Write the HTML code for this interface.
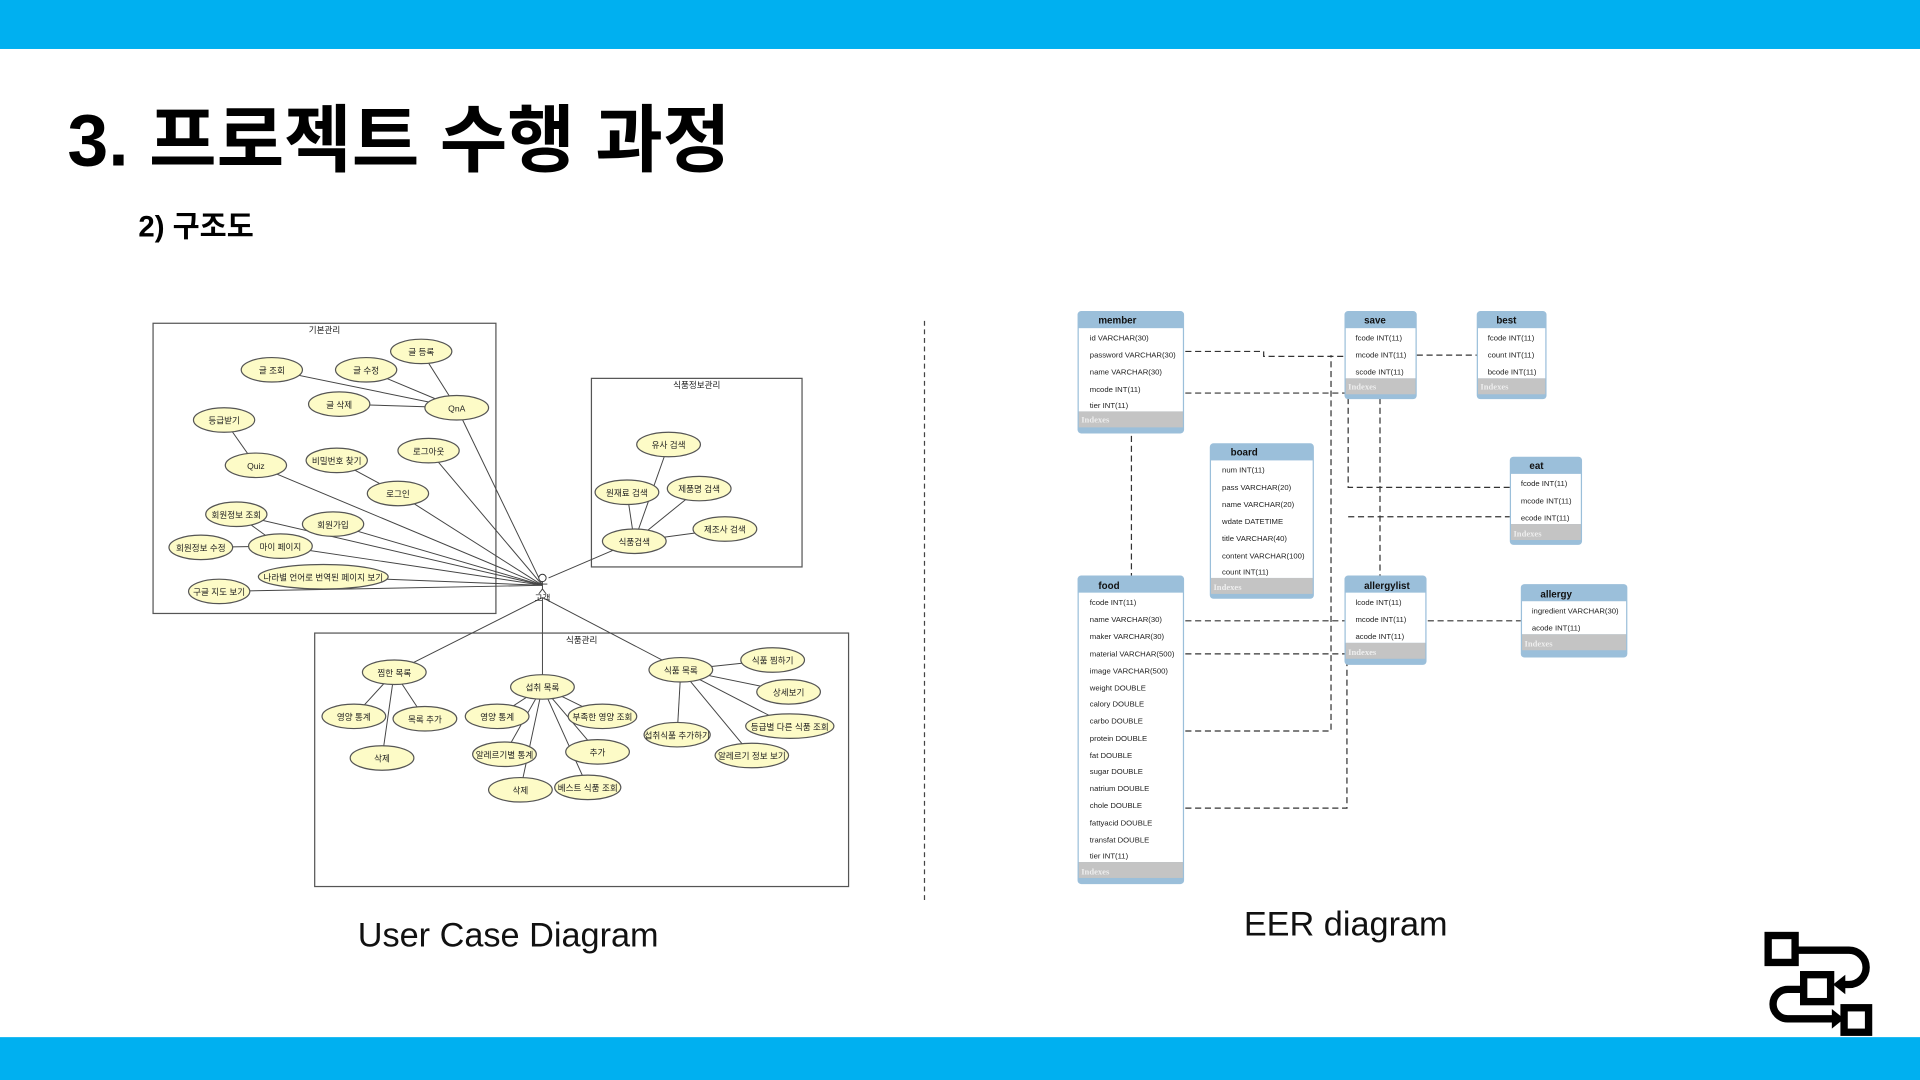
<!DOCTYPE html>
<html><head><meta charset="utf-8"><style>
html,body{margin:0;padding:0;background:#fff;width:1920px;height:1080px;overflow:hidden}
svg{display:block}
text{font-family:"Liberation Sans","Noto Sans CJK KR",sans-serif}
.uc text{font-size:7px;fill:#222;text-anchor:middle}
.uc ellipse{fill:#fdfbc7;stroke:#555;stroke-width:1}
.uc line{stroke:#444;stroke-width:0.8}
.box{fill:none;stroke:#555;stroke-width:1}
.t .h{fill:#9bbfda}
.t .b{fill:#fff}
.t .ix{fill:#c4c4c4}
.t text{font-size:6.3px;fill:#222}
.t .ht{font-size:8px;font-weight:bold;fill:#111}
.t .it{fill:#eee;font-family:"Liberation Serif",serif;font-weight:bold;font-size:7px}
.dl{stroke:#333;stroke-width:1;stroke-dasharray:5,3;fill:none}
</style></head><body>
<svg width="1920" height="1080" viewBox="0 0 1568 882">
<rect x="0" y="0" width="1568" height="40" fill="#00b0f0"/>
<rect x="0" y="847" width="1568" height="35" fill="#00b0f0"/>
<text x="55" y="135" font-size="60" font-weight="bold" fill="#000">3. 프로젝트 수행 과정</text>
<text x="113" y="193" font-size="24" font-weight="bold" fill="#000">2) 구조도</text>
<line x1="755" y1="262" x2="755" y2="738" stroke="#444" stroke-dasharray="4,3"/>

<g class="uc">
<rect class="box" x="125" y="264" width="280" height="237"/>
<rect class="box" x="483" y="309" width="172" height="154"/>
<rect class="box" x="257" y="517" width="436" height="207"/>
<text x="265" y="272">기본관리</text>
<text x="569" y="317">식품정보관리</text>
<text x="475" y="525">식품관리</text>
<!-- lines -->
<line x1="443" y1="478" x2="373" y2="333"/>
<line x1="443" y1="478" x2="350" y2="368"/>
<line x1="443" y1="478" x2="325" y2="403"/>
<line x1="443" y1="478" x2="272" y2="428"/>
<line x1="443" y1="478" x2="229" y2="446"/>
<line x1="443" y1="478" x2="209" y2="380"/>
<line x1="443" y1="478" x2="264" y2="471"/>
<line x1="443" y1="478" x2="179" y2="483"/>
<line x1="443" y1="478" x2="193" y2="420"/>
<line x1="373" y1="333" x2="344" y2="287"/>
<line x1="373" y1="333" x2="222" y2="302"/>
<line x1="373" y1="333" x2="299" y2="302"/>
<line x1="373" y1="333" x2="277" y2="330"/>
<line x1="183" y1="343" x2="209" y2="380"/>
<line x1="275" y1="376" x2="325" y2="403"/>
<line x1="229" y1="446" x2="193" y2="420"/>
<line x1="229" y1="446" x2="164" y2="447"/>
<line x1="448" y1="472" x2="518" y2="442"/>
<line x1="518" y1="442" x2="546" y2="363"/>
<line x1="518" y1="442" x2="512" y2="402"/>
<line x1="518" y1="442" x2="571" y2="399"/>
<line x1="518" y1="442" x2="592" y2="432"/>
<line x1="443" y1="488" x2="322" y2="549"/>
<line x1="443" y1="488" x2="443" y2="561"/>
<line x1="443" y1="488" x2="556" y2="547"/>
<line x1="322" y1="549" x2="289" y2="585"/>
<line x1="322" y1="549" x2="347" y2="587"/>
<line x1="322" y1="549" x2="312" y2="619"/>
<line x1="443" y1="561" x2="406" y2="585"/>
<line x1="443" y1="561" x2="492" y2="585"/>
<line x1="443" y1="561" x2="412" y2="616"/>
<line x1="443" y1="561" x2="488" y2="614"/>
<line x1="443" y1="561" x2="425" y2="645"/>
<line x1="443" y1="561" x2="480" y2="643"/>
<line x1="556" y1="547" x2="631" y2="539"/>
<line x1="556" y1="547" x2="644" y2="565"/>
<line x1="556" y1="547" x2="553" y2="600"/>
<line x1="556" y1="547" x2="645" y2="593"/>
<line x1="556" y1="547" x2="614" y2="617"/>
<!-- ellipses -->
<ellipse cx="344" cy="287" rx="25" ry="10"/><text x="344" y="290">글 등록</text>
<ellipse cx="222" cy="302" rx="25" ry="10"/><text x="222" y="305">글 조회</text>
<ellipse cx="299" cy="302" rx="25" ry="10"/><text x="299" y="305">글 수정</text>
<ellipse cx="277" cy="330" rx="25" ry="10"/><text x="277" y="333">글 삭제</text>
<ellipse cx="373" cy="333" rx="26" ry="10"/><text x="373" y="336">QnA</text>
<ellipse cx="183" cy="343" rx="25" ry="10"/><text x="183" y="346">등급받기</text>
<ellipse cx="209" cy="380" rx="25" ry="10"/><text x="209" y="383">Quiz</text>
<ellipse cx="275" cy="376" rx="25" ry="10"/><text x="275" y="379">비밀번호 찾기</text>
<ellipse cx="350" cy="368" rx="25" ry="10"/><text x="350" y="371">로그아웃</text>
<ellipse cx="325" cy="403" rx="25" ry="10"/><text x="325" y="406">로그인</text>
<ellipse cx="193" cy="420" rx="25" ry="10"/><text x="193" y="423">회원정보 조회</text>
<ellipse cx="272" cy="428" rx="25" ry="10"/><text x="272" y="431">회원가입</text>
<ellipse cx="164" cy="447" rx="26" ry="10"/><text x="164" y="450">회원정보 수정</text>
<ellipse cx="229" cy="446" rx="26" ry="10"/><text x="229" y="449">마이 페이지</text>
<ellipse cx="264" cy="471" rx="53" ry="10"/><text x="264" y="474">나라별 언어로 번역된 페이지 보기</text>
<ellipse cx="179" cy="483" rx="25" ry="10"/><text x="179" y="486">구글 지도 보기</text>
<ellipse cx="546" cy="363" rx="26" ry="10"/><text x="546" y="366">유사 검색</text>
<ellipse cx="512" cy="402" rx="26" ry="10"/><text x="512" y="405">원재료 검색</text>
<ellipse cx="571" cy="399" rx="26" ry="10"/><text x="571" y="402">제품명 검색</text>
<ellipse cx="592" cy="432" rx="26" ry="10"/><text x="592" y="435">제조사 검색</text>
<ellipse cx="518" cy="442" rx="26" ry="10"/><text x="518" y="445">식품검색</text>
<ellipse cx="322" cy="549" rx="26" ry="10"/><text x="322" y="552">찜한 목록</text>
<ellipse cx="289" cy="585" rx="26" ry="10"/><text x="289" y="588">영양 통계</text>
<ellipse cx="347" cy="587" rx="26" ry="10"/><text x="347" y="590">목록 추가</text>
<ellipse cx="312" cy="619" rx="26" ry="10"/><text x="312" y="622">삭제</text>
<ellipse cx="443" cy="561" rx="26" ry="10"/><text x="443" y="564">섭취 목록</text>
<ellipse cx="406" cy="585" rx="26" ry="10"/><text x="406" y="588">영양 통계</text>
<ellipse cx="492" cy="585" rx="28" ry="10"/><text x="492" y="588">부족한 영양 조회</text>
<ellipse cx="412" cy="616" rx="26" ry="10"/><text x="412" y="619">알레르기별 통계</text>
<ellipse cx="488" cy="614" rx="26" ry="10"/><text x="488" y="617">추가</text>
<ellipse cx="425" cy="645" rx="26" ry="10"/><text x="425" y="648">삭제</text>
<ellipse cx="480" cy="643" rx="27" ry="10"/><text x="480" y="646">베스트 식품 조회</text>
<ellipse cx="556" cy="547" rx="26" ry="10"/><text x="556" y="550">식품 목록</text>
<ellipse cx="631" cy="539" rx="26" ry="10"/><text x="631" y="542">식품 찜하기</text>
<ellipse cx="644" cy="565" rx="26" ry="10"/><text x="644" y="568">상세보기</text>
<ellipse cx="553" cy="600" rx="27" ry="10"/><text x="553" y="603">섭취식품 추가하기</text>
<ellipse cx="645" cy="593" rx="36" ry="10"/><text x="645" y="596">등급별 다른 식품 조회</text>
<ellipse cx="614" cy="617" rx="30" ry="10"/><text x="614" y="620">알레르기 정보 보기</text>
<!-- actor -->
<circle cx="443" cy="472" r="3" fill="#fff" stroke="#333" stroke-width="0.8"/>
<line x1="443" y1="475" x2="443" y2="481"/><line x1="439" y1="477" x2="447" y2="477"/>
<line x1="443" y1="481" x2="440" y2="485"/><line x1="443" y1="481" x2="446" y2="485"/>
<text x="443" y="491">고객</text>
</g>
<text x="415" y="773" font-size="28" text-anchor="middle" fill="#111">User Case Diagram</text>
<text x="1099" y="764" font-size="28" text-anchor="middle" fill="#111">EER diagram</text>

<!-- connectors -->
<g>
<path class="dl" d="M968 287 H1032 V291 H1098"/>
<path class="dl" d="M968 321 H1098"/>
<path class="dl" d="M1157 290 H1206"/>
<path class="dl" d="M924 356 V470"/>
<path class="dl" d="M1127 325 V470"/>
<path class="dl" d="M1101 325 V398 H1233"/>
<path class="dl" d="M1101 422 H1233"/>
<path class="dl" d="M968 507 H1098"/>
<path class="dl" d="M968 534 H1098"/>
<path class="dl" d="M968 597 H1087 V290"/>
<path class="dl" d="M968 660 H1100 V540"/>
<path class="dl" d="M1166 507 H1242"/>
</g>

<g class="t">
<!-- member -->
<rect x="880" y="254" width="87" height="100" rx="3" class="h"/>
<rect x="881" y="268" width="85" height="68" class="b"/><rect x="881" y="336" width="85" height="13" class="ix"/>
<text x="897" y="264" class="ht">member</text>
<text x="890" y="278">id VARCHAR(30)</text><text x="890" y="292">password VARCHAR(30)</text><text x="890" y="306">name VARCHAR(30)</text><text x="890" y="320">mcode INT(11)</text><text x="890" y="333">tier INT(11)</text>
<text x="883" y="345" class="it">Indexes</text>
<!-- save -->
<rect x="1098" y="254" width="59" height="72" rx="3" class="h"/>
<rect x="1099" y="268" width="57" height="41" class="b"/><rect x="1099" y="309" width="57" height="13" class="ix"/>
<text x="1114" y="264" class="ht">save</text>
<text x="1107" y="278">fcode INT(11)</text><text x="1107" y="292">mcode INT(11)</text><text x="1107" y="306">scode INT(11)</text>
<text x="1101" y="318" class="it">Indexes</text>
<!-- best -->
<rect x="1206" y="254" width="57" height="72" rx="3" class="h"/>
<rect x="1207" y="268" width="55" height="41" class="b"/><rect x="1207" y="309" width="55" height="13" class="ix"/>
<text x="1222" y="264" class="ht">best</text>
<text x="1215" y="278">fcode INT(11)</text><text x="1215" y="292">count INT(11)</text><text x="1215" y="306">bcode INT(11)</text>
<text x="1209" y="318" class="it">Indexes</text>
<!-- board -->
<rect x="988" y="362" width="85" height="127" rx="3" class="h"/>
<rect x="989" y="376" width="83" height="96" class="b"/><rect x="989" y="472" width="83" height="13" class="ix"/>
<text x="1005" y="372" class="ht">board</text>
<text x="998" y="386">num INT(11)</text><text x="998" y="400">pass VARCHAR(20)</text><text x="998" y="414">name VARCHAR(20)</text><text x="998" y="428">wdate DATETIME</text><text x="998" y="442">title VARCHAR(40)</text><text x="998" y="456">content VARCHAR(100)</text><text x="998" y="469">count INT(11)</text>
<text x="991" y="482" class="it">Indexes</text>
<!-- eat -->
<rect x="1233" y="373" width="59" height="72" rx="3" class="h"/>
<rect x="1234" y="387" width="57" height="41" class="b"/><rect x="1234" y="428" width="57" height="13" class="ix"/>
<text x="1249" y="383" class="ht">eat</text>
<text x="1242" y="397">fcode INT(11)</text><text x="1242" y="411">mcode INT(11)</text><text x="1242" y="425">ecode INT(11)</text>
<text x="1236" y="438" class="it">Indexes</text>
<!-- food -->
<rect x="880" y="470" width="87" height="252" rx="3" class="h"/>
<rect x="881" y="484" width="85" height="220" class="b"/><rect x="881" y="704" width="85" height="13" class="ix"/>
<text x="897" y="481" class="ht">food</text>
<text x="890" y="494">fcode INT(11)</text><text x="890" y="508">name VARCHAR(30)</text><text x="890" y="522">maker VARCHAR(30)</text><text x="890" y="536">material VARCHAR(500)</text><text x="890" y="550">image VARCHAR(500)</text><text x="890" y="564">weight DOUBLE</text><text x="890" y="577">calory DOUBLE</text><text x="890" y="591">carbo DOUBLE</text><text x="890" y="605">protein DOUBLE</text><text x="890" y="619">fat DOUBLE</text><text x="890" y="632">sugar DOUBLE</text><text x="890" y="646">natrium DOUBLE</text><text x="890" y="660">chole DOUBLE</text><text x="890" y="674">fattyacid DOUBLE</text><text x="890" y="688">transfat DOUBLE</text><text x="890" y="701">tier INT(11)</text>
<text x="883" y="714" class="it">Indexes</text>
<!-- allergylist -->
<rect x="1098" y="470" width="67" height="73" rx="3" class="h"/>
<rect x="1099" y="484" width="65" height="41" class="b"/><rect x="1099" y="525" width="65" height="13" class="ix"/>
<text x="1114" y="481" class="ht">allergylist</text>
<text x="1107" y="494">lcode INT(11)</text><text x="1107" y="508">mcode INT(11)</text><text x="1107" y="522">acode INT(11)</text>
<text x="1101" y="535" class="it">Indexes</text>
<!-- allergy -->
<rect x="1242" y="477" width="87" height="60" rx="3" class="h"/>
<rect x="1243" y="491" width="85" height="27" class="b"/><rect x="1243" y="518" width="85" height="13" class="ix"/>
<text x="1258" y="488" class="ht">allergy</text>
<text x="1251" y="501">ingredient VARCHAR(30)</text><text x="1251" y="515">acode INT(11)</text>
<text x="1245" y="528" class="it">Indexes</text>
</g>

<!-- logo -->
<g fill="none" stroke="#000" stroke-width="6">
<path d="M1468 776 H1510 A14 14 0 0 1 1510 804 H1502"/>
<path d="M1472 808 H1460 A12 12 0 0 0 1460 832 H1500"/>
</g>
<g fill="#fff" stroke="#000" stroke-width="6">
<rect x="1444" y="764" width="22" height="22"/>
<rect x="1473" y="796" width="22" height="22"/>
<rect x="1506" y="823" width="20" height="20"/>
</g>
<path d="M1497 804 l10 -8 v16z" fill="#000"/>
<path d="M1506 832 l-10 -8 v16z" fill="#000"/>
</svg>
</body></html>
